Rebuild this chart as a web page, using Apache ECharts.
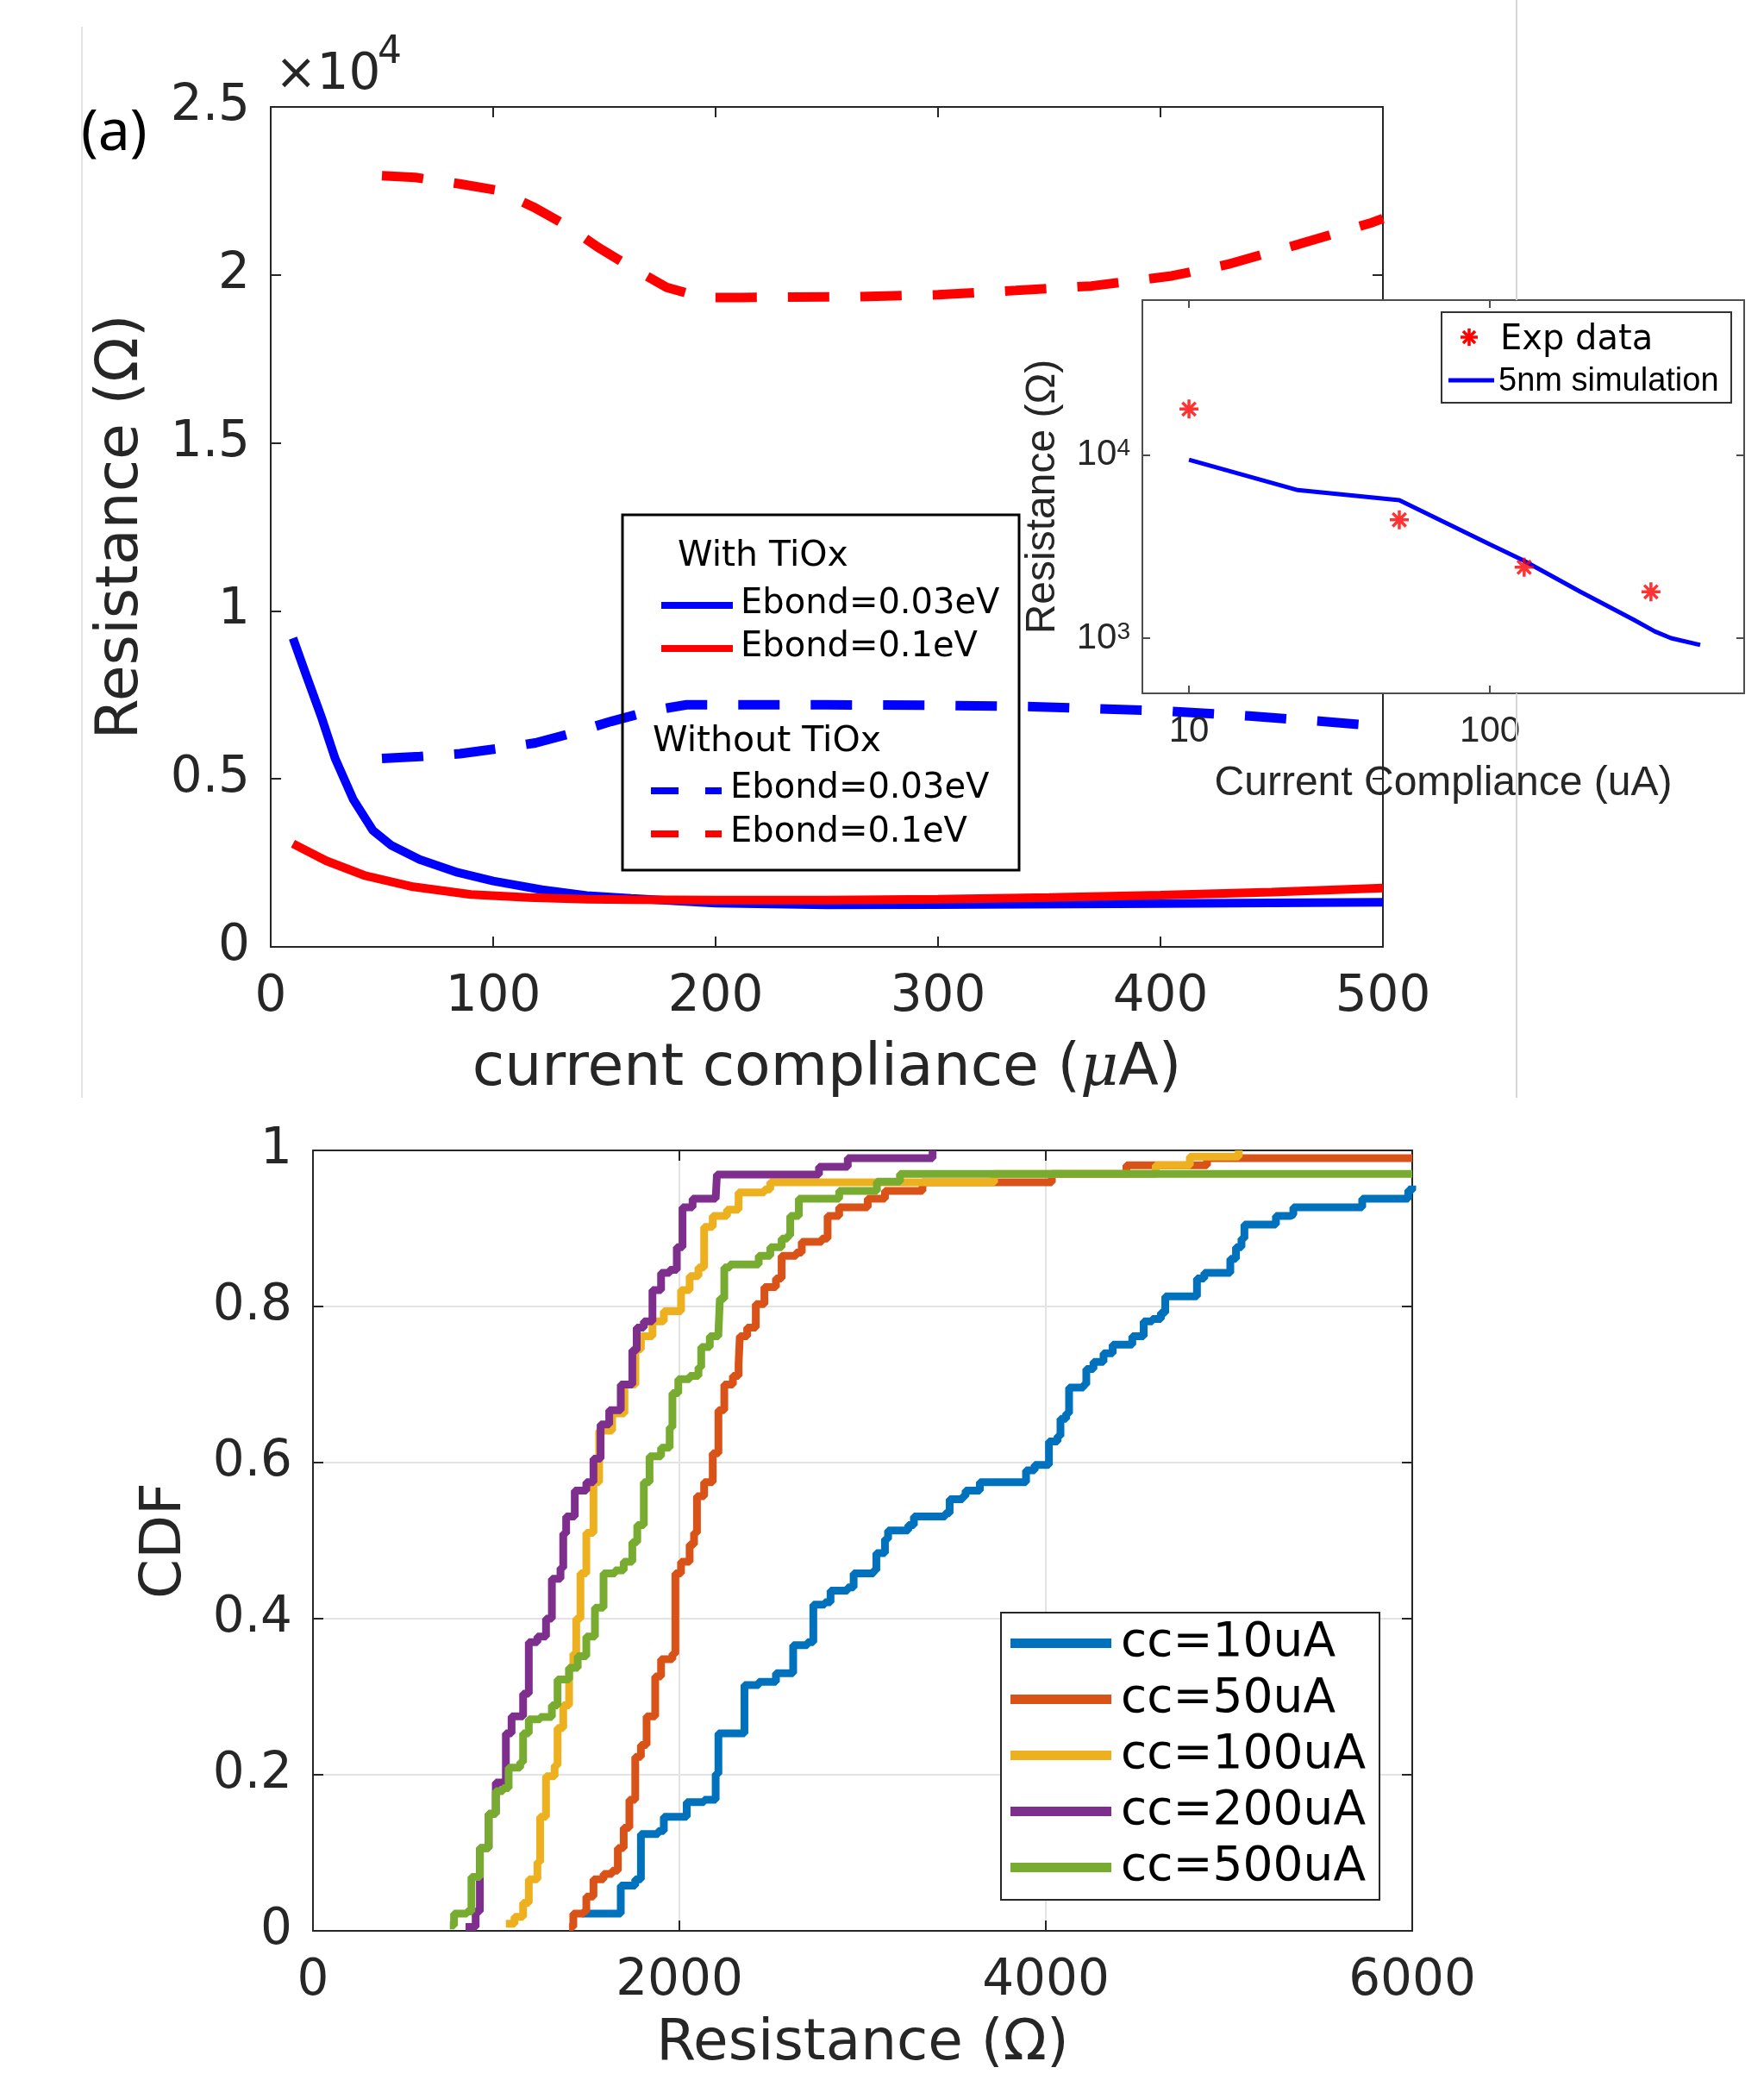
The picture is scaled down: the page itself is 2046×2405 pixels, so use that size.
<!DOCTYPE html>
<html>
<head>
<meta charset="utf-8">
<script src="https://cdn.jsdelivr.net/npm/echarts@6.0.0/dist/echarts.min.js"></script>
<style>
html, body { margin: 0; padding: 0; background: #fff; }
#chart { width: 2046px; height: 2405px; }
</style>
</head>
<body>
<div id="chart"></div>
<script>
// ---- (a) resistance vs current compliance ----
const tiox003X = [10, 16, 23, 29, 37, 46, 54, 67, 84, 100, 122, 142, 162, 200, 250, 300, 400, 500];
const tiox003Y = [9190, 8080, 6800, 5600, 4400, 3460, 3030, 2600, 2215, 1960, 1700, 1530, 1445, 1300, 1250, 1260, 1290, 1330];
const tiox01X = [10, 25, 42, 64, 90, 116, 142, 162, 200, 250, 300, 350, 400, 450, 500];
const tiox01Y = [3070, 2560, 2130, 1790, 1560, 1470, 1420, 1405, 1390, 1390, 1420, 1470, 1540, 1630, 1750];
const noTiox003X = [50, 67, 85, 102, 119, 136, 153, 170, 180, 187, 250, 300, 343, 400, 440, 475, 500];
const noTiox003Y = [5610, 5665, 5750, 5900, 6070, 6370, 6710, 7010, 7130, 7205, 7205, 7190, 7150, 7030, 6870, 6700, 6560];
const noTiox01X = [50, 65, 85, 102, 118, 133, 147, 162, 178, 194, 212, 263, 300, 335, 369, 405, 430, 462, 495, 500];
const noTiox01Y = [22950, 22900, 22710, 22520, 22025, 21470, 20830, 20230, 19630, 19330, 19330, 19350, 19410, 19540, 19670, 19970, 20310, 20910, 21555, 21680];

// inset (log-log)
const simCC = [10, 23, 50, 100, 129, 200, 300, 353, 400, 500];
const simR = [9420, 6430, 5660, 3250, 2660, 1790, 1262, 1090, 1000, 918];
const expCC = [10, 50, 130, 343];
const expR = [17800, 4430, 2440, 1790];

// ---- CDF of resistance, [R, F] ----
const cdfNames = ['cc=10uA', 'cc=50uA', 'cc=100uA', 'cc=200uA', 'cc=500uA'];
const cdfColors = ['#0072BD', '#D95319', '#EDB120', '#7E2F8E', '#77AC30'];
const cc10 = [[1470,0.022],[1649,0.022],[1680,0.058],[1759,0.066],[1790,0.124],[1884,0.128],[1915,0.146],[2009,0.146],
  [2040,0.165],[2135,0.168],[2198,0.201],[2213,0.253],[2292,0.253],[2355,0.315],[2433,0.319],[2527,0.33],[2621,0.366],
  [2699,0.37],[2731,0.418],[2793,0.421],[2825,0.436],[2918,0.44],[2951,0.458],[3060,0.462],[3075,0.484],[3122,0.502],
  [3139,0.513],[3249,0.52],[3280,0.531],[3451,0.535],[3475,0.553],[3546,0.557],[3562,0.564],[3640,0.575],[3860,0.575],
  [3892,0.59],[3939,0.597],[4001,0.597],[4017,0.627],[4064,0.634],[4080,0.656],[4111,0.663],[4127,0.696],[4206,0.70],
  [4221,0.72],[4260,0.729],[4315,0.74],[4365,0.751],[4450,0.751],[4472,0.762],[4534,0.781],[4581,0.784],[4628,0.792],
  [4652,0.813],[4802,0.813],[4825,0.836],[4865,0.843],[4991,0.843],[5007,0.861],[5038,0.876],[5068,0.887],[5084,0.905],
  [5241,0.905],[5256,0.916],[5335,0.918],[5351,0.927],[5711,0.927],[5727,0.938],[5946,0.938],[5978,0.949],[6000,0.955]];
const cc50 = [[1398,0.005],[1421,0.022],[1476,0.025],[1492,0.044],[1531,0.066],[1586,0.073],[1633,0.077],[1664,0.106],
  [1696,0.132],[1727,0.168],[1759,0.223],[1790,0.238],[1821,0.275],[1868,0.326],[1900,0.348],[1962,0.355],[1978,0.458],
  [2009,0.473],[2056,0.495],[2080,0.51],[2096,0.557],[2135,0.575],[2182,0.612],[2213,0.667],[2245,0.70],[2292,0.711],
  [2323,0.726],[2330,0.762],[2370,0.773],[2417,0.803],[2464,0.825],[2527,0.836],[2558,0.865],[2637,0.869],[2668,0.883],
  [2777,0.887],[2809,0.916],[2872,0.927],[3012,0.927],[3028,0.938],[3122,0.948],[3327,0.959],[4033,0.97],[4440,0.981],
  [4880,0.99],[6000,0.99]];
const cc100 = [[1053,0.009],[1100,0.018],[1147,0.036],[1178,0.066],[1225,0.088],[1240,0.146],[1272,0.198],[1319,0.212],
  [1335,0.26],[1366,0.289],[1398,0.337],[1421,0.355],[1437,0.40],[1460,0.458],[1492,0.51],[1531,0.575],[1562,0.641],
  [1633,0.663],[1700,0.70],[1760,0.745],[1790,0.762],[1853,0.781],[1915,0.794],[1978,0.794],[2009,0.821],[2056,0.839],
  [2104,0.85],[2135,0.902],[2182,0.916],[2260,0.924],[2323,0.946],[2464,0.95],[2496,0.959],[3718,0.97],[4600,0.981],
  [4786,0.992],[5053,1.0]];
const cc200 = [[833,0.005],[888,0.025],[911,0.106],[959,0.15],[998,0.19],[1053,0.253],[1084,0.275],[1147,0.304],
  [1178,0.37],[1225,0.377],[1272,0.40],[1304,0.451],[1351,0.465],[1366,0.509],[1382,0.531],[1429,0.564],[1492,0.575],
  [1531,0.605],[1570,0.649],[1617,0.667],[1680,0.70],[1743,0.744],[1767,0.773],[1806,0.781],[1853,0.821],[1900,0.843],
  [1947,0.847],[1986,0.876],[2017,0.927],[2072,0.938],[2198,0.938],[2205,0.969],[2762,0.979],[2919,0.99],[3382,1.0]];
const cc500 = [[747,0.007],[770,0.022],[841,0.025],[865,0.069],[911,0.106],[959,0.15],[998,0.179],[1037,0.183],
  [1068,0.209],[1131,0.216],[1147,0.253],[1178,0.271],[1240,0.274],[1304,0.289],[1335,0.322],[1398,0.337],[1445,0.352],
  [1492,0.377],[1539,0.414],[1586,0.458],[1649,0.462],[1696,0.473],[1743,0.498],[1770,0.52],[1806,0.575],[1837,0.608],
  [1900,0.619],[1947,0.645],[1962,0.689],[1994,0.707],[2056,0.711],[2104,0.722],[2119,0.748],[2166,0.762],[2213,0.766],
  [2221,0.81],[2245,0.85],[2276,0.854],[2402,0.854],[2433,0.865],[2496,0.876],[2558,0.887],[2590,0.891],[2605,0.916],
  [2652,0.938],[2872,0.948],[3078,0.96],[3204,0.97],[6000,0.97]];
const cdfData = [cc10, cc50, cc100, cc200, cc500];

const INK = '#262626';
const zip = (xs, ys) => xs.map((x, i) => [x, ys[i]]);

function frameAxis(gridIndex, position, extra) {
  return Object.assign({
    gridIndex: gridIndex,
    type: 'value',
    position: position,
    axisLine: { show: true, onZero: false, lineStyle: { color: INK, width: 2 } },
    axisTick: { show: true, inside: true, length: 12, lineStyle: { color: INK, width: 2 } },
    axisLabel: { show: false },
    splitLine: { show: false }
  }, extra);
}

const lbl = (size, fam) => ({ show: true, fontSize: size, fontFamily: fam || 'DejaVu Sans', color: INK });

const insetXLabel = v => {
  const e = Math.log10(v), r = Math.round(e);
  return Math.abs(e - r) < 1e-6 && (r === 1 || r === 2) ? String(Math.pow(10, r)) : '';
};
const insetYLabel = v => {
  const e = Math.log10(v), r = Math.round(e);
  return Math.abs(e - r) < 1e-6 && (r === 3 || r === 4) ? '{b|10}{s|' + r + '}' : '';
};

const xAxes = [
  frameAxis(0, 'bottom', { min: 0, max: 500, interval: 100,
    axisLabel: Object.assign(lbl(58), { margin: 30 }),
    name: '{t|current compliance (}{m|μ}{t|A)}', nameLocation: 'middle', nameGap: 108,
    nameTextStyle: { rich: {
      t: { fontSize: 68, fontFamily: 'DejaVu Sans', color: INK },
      m: { fontSize: 68, fontFamily: 'DejaVu Serif', fontStyle: 'italic', color: INK } } } }),
  frameAxis(0, 'top', { min: 0, max: 500, interval: 100 }),
  frameAxis(1, 'bottom', { type: 'log', logBase: 10, min: 7, max: 700, z: 11,
    axisLine: { show: true, onZero: false, lineStyle: { color: '#4d4d4d', width: 2 } },
    axisTick: { show: true, inside: true, length: 9, lineStyle: { color: '#4d4d4d', width: 2 } },
    axisLabel: Object.assign(lbl(42, 'Liberation Sans'), { margin: 23, formatter: insetXLabel }),
    name: 'Current Compliance (uA)', nameLocation: 'middle', nameGap: 81,
    nameTextStyle: { fontSize: 48, fontFamily: 'Liberation Sans', color: INK } }),
  frameAxis(1, 'top', { type: 'log', logBase: 10, min: 7, max: 700, z: 11,
    axisLine: { show: true, onZero: false, lineStyle: { color: '#4d4d4d', width: 2 } },
    axisTick: { show: true, inside: true, length: 9, lineStyle: { color: '#4d4d4d', width: 2 } } }),
  frameAxis(2, 'bottom', { min: 0, max: 6000, interval: 2000,
    axisLabel: Object.assign(lbl(58), { margin: 30, formatter: v => String(v) }),
    splitLine: { show: true, lineStyle: { color: '#e3e3e3', width: 2 } },
    name: 'Resistance (Ω)', nameLocation: 'middle', nameGap: 99,
    nameTextStyle: { fontSize: 66, fontFamily: 'DejaVu Sans', color: INK } }),
  frameAxis(2, 'top', { min: 0, max: 6000, interval: 2000 })
];

const yAxes = [
  frameAxis(0, 'left', { min: 0, max: 25000, interval: 5000,
    axisLabel: Object.assign(lbl(58), { margin: 24, formatter: v => String(v / 10000) }),
    name: 'Resistance (Ω)', nameLocation: 'middle', nameGap: 139, nameRotate: 90,
    nameTextStyle: { fontSize: 68, fontFamily: 'DejaVu Sans', color: INK } }),
  frameAxis(0, 'right', { min: 0, max: 25000, interval: 5000 }),
  frameAxis(1, 'left', { type: 'log', logBase: 10, min: 500, max: 70000, z: 11,
    axisLine: { show: true, onZero: false, lineStyle: { color: '#4d4d4d', width: 2 } },
    axisTick: { show: true, inside: true, length: 9, lineStyle: { color: '#4d4d4d', width: 2 } },
    axisLabel: { show: true, margin: 14, formatter: insetYLabel,
      rich: {
        b: { fontSize: 42, fontFamily: 'Liberation Sans', color: INK },
        s: { fontSize: 28, fontFamily: 'Liberation Sans', color: INK, verticalAlign: 'top' } } },
    name: 'Resistance (Ω)', nameLocation: 'middle', nameGap: 91, nameRotate: 90,
    nameTextStyle: { fontSize: 48, fontFamily: 'Liberation Sans', color: INK } }),
  frameAxis(1, 'right', { type: 'log', logBase: 10, min: 500, max: 70000, z: 11,
    axisLine: { show: true, onZero: false, lineStyle: { color: '#4d4d4d', width: 2 } },
    axisTick: { show: true, inside: true, length: 9, lineStyle: { color: '#4d4d4d', width: 2 } } }),
  frameAxis(2, 'left', { min: 0, max: 1, interval: 0.2,
    axisLabel: Object.assign(lbl(58), { margin: 24 }),
    splitLine: { show: true, lineStyle: { color: '#e3e3e3', width: 2 } },
    name: 'CDF', nameLocation: 'middle', nameGap: 138, nameRotate: 90,
    nameTextStyle: { fontSize: 66, fontFamily: 'DejaVu Sans', color: INK } }),
  frameAxis(2, 'right', { min: 0, max: 1, interval: 0.2 })
];

function mainLine(xs, ys, color, dashed) {
  return {
    type: 'line', xAxisIndex: 0, yAxisIndex: 0, data: zip(xs, ys),
    symbol: 'none', z: 2,
    lineStyle: { color: color, width: dashed ? 11 : 10, type: dashed ? [48, 36] : 'solid', cap: 'butt' }
  };
}

const series = [
  mainLine(tiox003X, tiox003Y, '#0000ff', false),
  mainLine(tiox01X, tiox01Y, '#ff0000', false),
  mainLine(noTiox003X, noTiox003Y, '#0000ff', true),
  mainLine(noTiox01X, noTiox01Y, '#ff0000', true),
  {
    type: 'line', xAxisIndex: 2, yAxisIndex: 2, data: zip(simCC, simR), symbol: 'none', z: 12,
    lineStyle: { color: '#0000ff', width: 5 }
  },
  {
    type: 'scatter', xAxisIndex: 2, yAxisIndex: 2, data: zip(expCC, expR), z: 13,
    symbol: 'path://M10,0L10,20M0,10L20,10M3,3L17,17M3,17L17,3', symbolSize: 22,
    itemStyle: { color: 'rgba(0,0,0,0)', borderColor: '#ff0000', borderWidth: 3.5 }
  }
];
cdfData.forEach((d, i) => {
  series.push({
    name: cdfNames[i], type: 'line', xAxisIndex: 4, yAxisIndex: 4, data: d,
    step: 'end', symbol: 'none', color: cdfColors[i],
    lineStyle: { color: cdfColors[i], width: 9 }
  });
});

// legend of panel (a), drawn by hand since it has group headings
function gLine(x1, y1, x2, y2, stroke, w, dash) {
  return { type: 'line', z: 20, shape: { x1, y1, x2, y2 },
    style: { stroke: stroke, lineWidth: w, lineDash: dash || null } };
}
function gText(x, y, text, size, fam, extra) {
  return { type: 'text', z: 21, x: x, y: y,
    style: Object.assign({ text: text, fontSize: size, fontFamily: fam || 'DejaVu Sans', fill: '#000',
      verticalAlign: 'middle', align: 'left' }, extra || {}) };
}

const graphics = [
  // faint frame lines of the pasted figure
  gLine(95, 31, 95, 1273, '#e4e4e4', 2),
  gLine(1759, 0, 1759, 348, '#d6d6d6', 2),
  gLine(1759, 804, 1759, 1273, '#d6d6d6', 2),
  gText(94, 155, '(a)', 66, 'Noto Sans'),
  gText(319, 88, '×10', 58, 'DejaVu Sans', { fill: INK }),
  gText(438, 62, '4', 44, 'DejaVu Sans', { fill: INK }),
  { type: 'rect', z: 20, shape: { x: 722, y: 597, width: 460, height: 412 },
    style: { fill: null, stroke: '#000', lineWidth: 3 } },
  gText(786, 645, 'With TiOx', 41),
  gLine(767, 702, 850, 702, '#0000ff', 8),
  gText(859, 701, 'Ebond=0.03eV', 40),
  gLine(767, 752, 850, 752, '#ff0000', 8),
  gText(859, 751, 'Ebond=0.1eV', 40),
  gText(757, 860, 'Without TiOx', 41),
  gLine(755, 917, 837, 917, '#0000ff', 8, [32, 31]),
  gText(847, 915, 'Ebond=0.03eV', 40),
  gLine(755, 967, 837, 967, '#ff0000', 8, [32, 31]),
  gText(847, 966, 'Ebond=0.1eV', 40),
  // inset legend
  { type: 'rect', z: 30, shape: { x: 1672, y: 362, width: 336, height: 105 },
    style: { fill: '#fff', stroke: '#333', lineWidth: 2 } },
  Object.assign(gLine(1704, 381, 1704, 401, '#ff0000', 3.5), { z: 31 }),
  Object.assign(gLine(1694, 391, 1714, 391, '#ff0000', 3.5), { z: 31 }),
  Object.assign(gLine(1697, 384, 1711, 398, '#ff0000', 3.5), { z: 31 }),
  Object.assign(gLine(1697, 398, 1711, 384, '#ff0000', 3.5), { z: 31 }),
  Object.assign(gText(1740, 395, 'Exp data', 40), { z: 31 }),
  Object.assign(gLine(1680, 441, 1733, 441, '#0000ff', 5), { z: 31 }),
  Object.assign(gText(1738, 443, '5nm simulation', 38, 'Liberation Sans'), { z: 31 })
];

const chart = echarts.init(document.getElementById('chart'));
chart.setOption({
  animation: false,
  backgroundColor: '#fff',
  grid: [
    { left: 314, top: 124, width: 1290, height: 974, containLabel: false },
    { left: 1325, top: 348, width: 698, height: 456, show: true, backgroundColor: '#fff', borderWidth: 0, z: 10 },
    { left: 363, top: 1334, width: 1275, height: 909 }
  ],
  xAxis: xAxes,
  yAxis: yAxes,
  legend: {
    data: cdfNames, orient: 'vertical', left: 1161, top: 1870,
    itemWidth: 117, itemHeight: 11, itemGap: 10, icon: 'rect',
    textStyle: { fontSize: 55, fontFamily: 'DejaVu Sans', color: '#000', padding: [0, 0, 0, 6] },
    borderColor: INK, borderWidth: 2, backgroundColor: '#fff', padding: [8, 16, 10, 11],
    selectedMode: false
  },
  series: series,
  graphic: graphics
});
</script>
</body>
</html>
